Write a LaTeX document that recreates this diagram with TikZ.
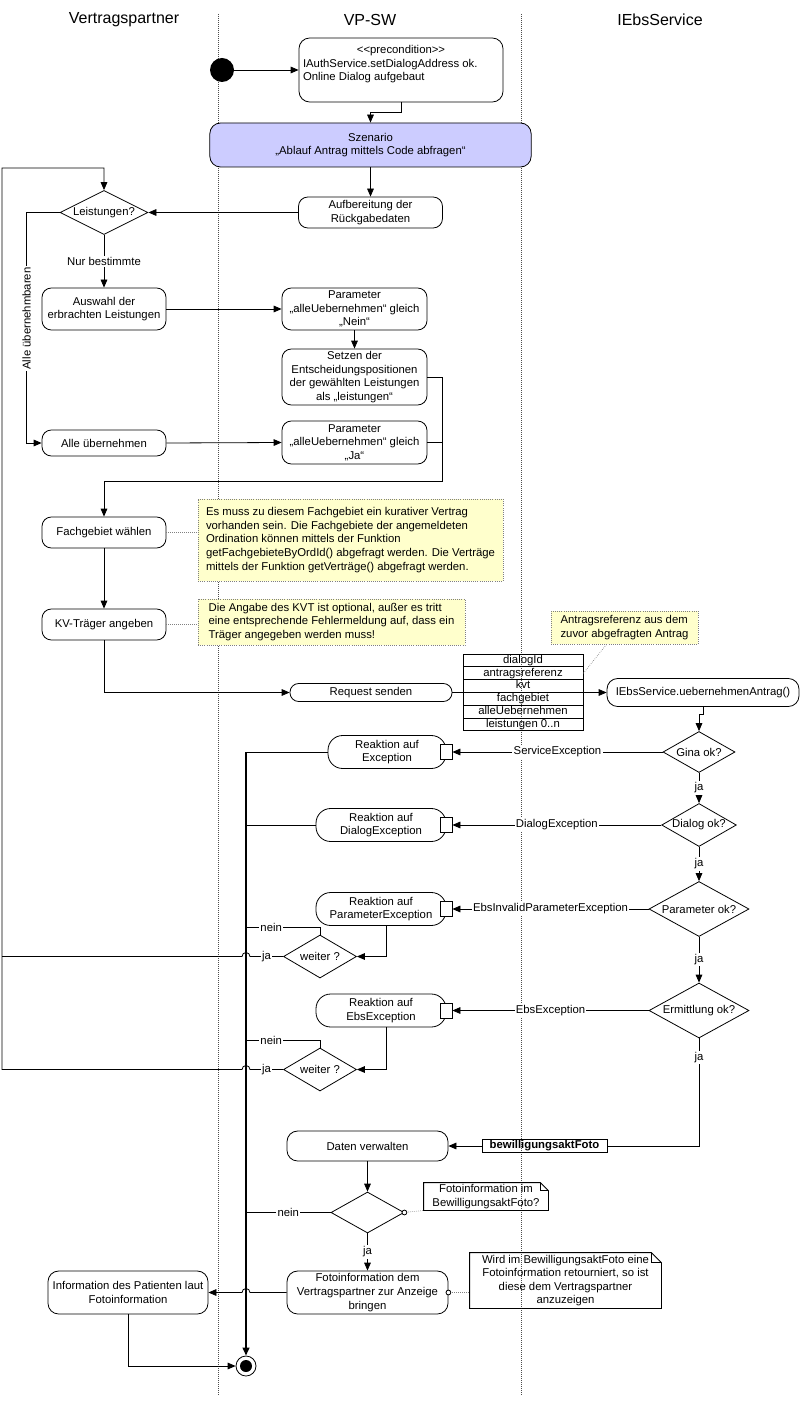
\documentclass[tikz,border=0pt]{standalone}
\usepackage{fontspec}
\setmainfont{Liberation Sans}
\usetikzlibrary{shapes.geometric,arrows.meta,positioning,calc}
\definecolor{scenariocolor}{RGB}{204,204,255}
\definecolor{memocolor}{RGB}{255,255,204}
\newcommand{\txt}{\fontsize{8.5}{10.2}\selectfont}

\begin{document}
\begin{tikzpicture}[x=0.75pt, y=-0.75pt, line width=0.6pt,
    every node/.style={font=\txt},
    action/.style={rectangle, draw, rounded corners=7pt, align=center, inner sep=1pt},
    reaction/.style={action, rounded corners=11pt, minimum width=97.5pt, minimum height=24.75pt},
    decision/.style={diamond, draw, aspect=2, inner sep=0pt},
    pinbox/.style={rectangle, draw, fill=white, inner sep=0pt, minimum width=9pt, minimum height=11.25pt},
    objrow/.style={rectangle, draw, inner sep=0pt, minimum width=90pt, minimum height=9.6pt, text height=6pt, text depth=1.6pt},
    memo/.style={rectangle, draw=gray, densely dotted, fill=memocolor, align=left, inner sep=3pt},
    foldmemo/.style={rectangle, align=center, inner sep=1pt},
    memoline/.style={gray, densely dotted, line width=0.5pt},
    flowlabel/.style={fill=white, inner sep=1pt},
    lane/.style={densely dotted, line width=0.5pt, gray!60!black},
    header/.style={font=\fontsize{12}{14}\selectfont},
    arrow/.style={-{Triangle[length=6pt,width=5pt]}}
]
    \path[use as bounding box, fill=white] (0,0) rectangle (800,1412);

    % Swimlanes
    \draw[lane] (218,14) -- (218,1396);
    \draw[lane] (521,14) -- (521,1396);
    \node[header] (hvp) at (124,20) {Vertragspartner};
    \node[header] (hsw) at (370,20) {VP-SW};
    \node[header] (hebs) at (660,20) {IEbsService};

    % Start and scenario
    \node[circle, fill=black, minimum size=18pt, inner sep=0pt] (start) at (222,70) {};
    \node[action, rounded corners=8pt, minimum width=153pt, minimum height=48pt, align=left] (pre) at (401,70)
        {\makebox[147pt]{<\kern0pt<precondition>\kern0pt>}\\IAuthService.setDialogAddress ok.\\Online Dialog aufgebaut\\\mbox{}};
    \node[action, fill=scenariocolor, rounded corners=8pt, minimum width=241pt, minimum height=33pt] (scen) at (370.5,145)
        {Szenario\\„Ablauf Antrag mittels Code abfragen“};
    \node[action, minimum width=108pt, minimum height=23.25pt] (aufb) at (370.5,212.5) {Aufbereitung der\\Rückgabedaten};

    % Leistungen
    \node[decision, minimum width=66pt, minimum height=33pt] (leist) at (104,212.5) {Leistungen?};
    \node[action, minimum width=93pt, minimum height=31.5pt] (auswahl) at (104,309) {Auswahl der\\erbrachten Leistungen};
    \node[action, minimum width=108.75pt, minimum height=31.5pt] (parnein) at (354.5,309) {Parameter\\„alleUebernehmen“ gleich\\„Nein“};
    \node[action, minimum width=108.75pt, minimum height=42pt] (setzen) at (354.5,377) {Setzen der\\Entscheidungspositionen\\der gewählten Leistungen\\als „leistungen“};
    \node[action, minimum width=93pt, minimum height=19.5pt] (alle) at (104,443) {Alle übernehmen};
    \node[action, minimum width=108.75pt, minimum height=32.25pt] (parja) at (354.5,442.5) {Parameter\\„alleUebernehmen“ gleich\\„Ja“};

    % Fachgebiet and KV-Traeger
    \node[action, minimum width=93pt, minimum height=23.25pt] (fach) at (104,532.5) {Fachgebiet wählen};
    \node[memo, minimum width=228.75pt, minimum height=61.5pt] (note1) at (350.5,540)
        {Es muss zu diesem Fachgebiet ein kurativer Vertrag\\vorhanden sein. Die Fachgebiete der angemeldeten\\Ordination können mittels der Funktion\\getFachgebieteByOrdId() abgefragt werden. Die Verträge\\mittels der Funktion getVerträge() abgefragt werden.};
    \node[action, minimum width=93pt, minimum height=23.25pt] (kv) at (104,624.5) {KV-Träger angeben};
    \node[memo, minimum width=200.25pt, minimum height=34.5pt] (note2) at (331.5,622)
        {Die Angabe des KVT ist optional, außer es tritt\\eine entsprechende Fehlermeldung auf, dass ein\\Träger angegeben werden muss!};

    % Request
    \node[action, rounded corners=6.5pt, minimum width=121.5pt, minimum height=13.5pt] (req) at (371,692.5) {Request senden};
    \foreach \rowtext [count=\i] in {dialogId, antragsreferenz, kvt, fachgebiet, alleUebernehmen, leistungen 0..n}
        \node[objrow] (row\i) at (523,{654+12.8*(\i-0.5)}) {\rowtext};
    \node[memo, minimum width=110.25pt, minimum height=24.75pt] (note3) at (624.5,627.5) {Antragsreferenz aus dem\\zuvor abgefragten Antrag};
    \node[action, rounded corners=8pt, minimum width=144pt, minimum height=21pt] (ebs) at (703,692.5) {IEbsService.uebernehmenAntrag()};

    % Checks and reactions
    \node[decision, minimum width=54pt, minimum height=30.75pt] (gina) at (699,752) {Gina ok?};
    \node[reaction, minimum width=88.5pt] (reakt1) at (387,752) {Reaktion auf\\Exception};
    \node[pinbox] (pin1) at (446,752) {};
    \node[decision, minimum width=55.5pt, minimum height=32.25pt] (dialog) at (699,825) {Dialog ok?};
    \node[reaction] (reakt2) at (381,825) {Reaktion auf\\DialogException};
    \node[pinbox] (pin2) at (446,825) {};
    \node[decision, minimum width=75pt, minimum height=41.25pt] (param) at (699,909) {Parameter ok?};
    \node[reaction] (reakt3) at (381,909) {Reaktion auf\\ParameterException};
    \node[pinbox] (pin3) at (446,909) {};
    \node[decision, minimum width=54.75pt, minimum height=32.25pt] (weiter1) at (320,956.5) {weiter ?};
    \node[decision, minimum width=75pt, minimum height=41.25pt] (ermitt) at (699,1010.5) {Ermittlung ok?};
    \node[reaction] (reakt4) at (381,1010.5) {Reaktion auf\\EbsException};
    \node[pinbox] (pin4) at (446,1010.5) {};
    \node[decision, minimum width=54.75pt, minimum height=32.25pt] (weiter2) at (320,1069.5) {weiter ?};

    % Foto
    \node[objrow, minimum width=93.75pt, minimum height=9.75pt, font=\txt\bfseries] (bew) at (544.5,1146) {bewilligungsaktFoto};
    \node[action, rounded corners=8pt, minimum width=120.75pt, minimum height=22.5pt] (daten) at (367.5,1146) {Daten verwalten};
    \node[decision, minimum width=54.75pt, minimum height=30.75pt] (dec) at (367.5,1212.5) {};
    \node[foldmemo, minimum width=93pt, minimum height=20.25pt] (note4) at (486,1196.5) {Fotoinformation im\\BewilligungsaktFoto?};
    \node[action, rounded corners=8pt, minimum width=120.75pt, minimum height=32.25pt] (fotoinf) at (367.5,1292.5) {Fotoinformation dem\\Vertragspartner zur Anzeige\\bringen};
    \node[foldmemo, minimum width=143.25pt, minimum height=41.25pt] (note5) at (565.5,1280.5)
        {Wird im BewilligungsaktFoto eine\\Fotoinformation retourniert, so ist\\diese dem Vertragspartner\\anzuzeigen};
    \node[action, rounded corners=8pt, minimum width=120pt, minimum height=32.25pt] (info) at (128,1292.5) {Information des Patienten laut\\Fotoinformation};
    \node[circle, draw, fill=white, minimum size=15pt, inner sep=0pt] (final) at (246,1366) {};
    \node[circle, fill=black, minimum size=9pt, inner sep=0pt] (finaldot) at (final) {};

    % Folded note outlines
    \foreach \nm/\fd in {note4/8, note5/10} {
        \draw (\nm.south west) -- (\nm.north west) -- ($(\nm.north east)+(-\fd,0)$) -- ($(\nm.north east)+(0,\fd)$) -- (\nm.south east) -- cycle;
        \draw ($(\nm.north east)+(-\fd,0)$) -- ($(\nm.north east)+(-\fd,\fd)$) -- ($(\nm.north east)+(0,\fd)$);
    }

    % Upper flow
    \draw[arrow] (start.east) -- (pre.west);
    \draw[arrow] (pre.south) -- ++(0,10) -| (scen.north);
    \draw[arrow] (scen.south) -- (aufb.north);
    \draw[arrow] (aufb.west) -- (leist.east);
    \draw[arrow] (leist.south) -- node[flowlabel] {Nur bestimmte} (auswahl.north);
    \draw[arrow] (leist.west) -- ++(-33,0) |- node[flowlabel, rotate=90, pos=0.23] {Alle übernehmbaren} (alle.west);
    \draw[arrow] (auswahl.east) -- (parnein.west);
    \draw[arrow] (parnein.south) -- (setzen.north);
    \draw[arrow] (alle.east) -- (parja.west);
    \coordinate (merge) at (442,481);
    \draw[arrow] (setzen.east) -| (merge) -| (fach.north);
    \draw (parja.east) -- (parja.east -| merge);
    \draw[memoline] (fach.east) -- (fach.east -| note1.west);
    \draw[arrow] (fach.south) -- (kv.north);
    \draw[memoline] (kv.east) -- (kv.east -| note2.west);
    \draw[arrow] (kv.south) |- (req.west);
    \draw (req.east) -- (req.east -| row4.west);
    \draw[arrow] (ebs.west -| row4.east) -- (ebs.west);
    \draw[memoline] (row2.east) -- ($(note3.south)+(-18,0)$);
    \draw[arrow] (ebs.south) -- ++(0,7) -| (gina.north);

    % Checks
    \draw[arrow] (gina.south) -- node[flowlabel] {ja} (dialog.north);
    \draw[arrow] (dialog.south) -- node[flowlabel] {ja} (param.north);
    \draw[arrow] (param.south) -- node[flowlabel] {ja} (ermitt.north);
    \draw (ermitt.south) |- node[flowlabel, pos=0.09] {ja} (bew.east);
    \draw[arrow] (bew.west) -- (daten.east);
    \draw[arrow] (gina.west) -- node[flowlabel] {ServiceException} (pin1.east);
    \draw[arrow] (dialog.west) -- node[flowlabel] {DialogException} (pin2.east);
    \draw[arrow] (param.west) -- node[flowlabel] {EbsInvalidParameterException} (pin3.east);
    \draw[arrow] (ermitt.west) -- node[flowlabel] {EbsException} (pin4.east);

    % Merge line to the end
    \coordinate (vtop) at (246,752);
    \coordinate (looptop) at (2,168);
    \draw[arrow, line width=1.5pt] (vtop) -- (final.north);
    \draw (reakt1.west) -- (vtop);
    \draw (reakt2.west) -- (reakt2.west -| vtop);
    \draw[arrow] ($(reakt3.south)+(5,0)$) |- (weiter1.east);
    \draw[arrow] ($(reakt4.south)+(5,0)$) |- (weiter2.east);
    \draw (weiter1.north) -- ++(0,-7) coordinate (w1n) -- node[flowlabel, pos=0.66] {nein} (w1n -| vtop);
    \draw (weiter2.north) -- ++(0,-7) coordinate (w2n) -- node[flowlabel, pos=0.66] {nein} (w2n -| vtop);
    \draw (weiter1.west) -- node[flowlabel] {ja} ($(vtop |- weiter1.west)+(4,0)$)
        arc[start angle=0, end angle=180, radius=3pt] -- (looptop |- weiter1.west);
    \draw[arrow] (weiter2.west) -- node[flowlabel] {ja} ($(vtop |- weiter2.west)+(4,0)$)
        arc[start angle=0, end angle=180, radius=3pt] -- (looptop |- weiter2.west) -- (looptop) -| (leist.north);

    % Foto flow
    \draw[arrow] (daten.south) -- (dec.north);
    \draw (dec.west) -- node[flowlabel] {nein} (dec.west -| vtop);
    \draw[arrow] (dec.south) -- node[flowlabel] {ja} (fotoinf.north);
    \draw[memoline] (dec.east) -- (note4.south west);
    \draw[fill=white] (dec.east) circle (1.8pt);
    \draw[memoline] (fotoinf.east) -- (fotoinf.east -| note5.west);
    \draw[fill=white] (fotoinf.east) circle (1.8pt);
    \draw[arrow] (fotoinf.west) -- ($(vtop |- fotoinf.west)+(4,0)$)
        arc[start angle=0, end angle=180, radius=3pt] -- (info.east);
    \draw[arrow] (info.south) |- (final.west);
\end{tikzpicture}
\end{document}
